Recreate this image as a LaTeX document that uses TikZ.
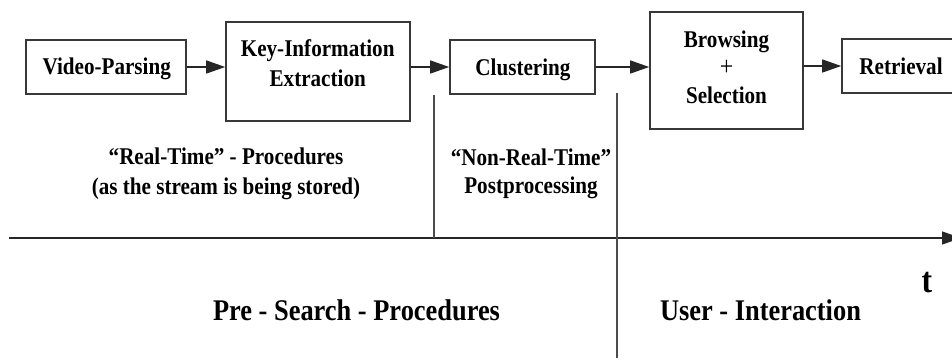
\documentclass[tikz,border=0pt]{standalone}
\usepackage{fontspec}
\setmainfont{Liberation Serif}
\usetikzlibrary{arrows.meta}
\newcommand{\sqtxt}[2][24]{\scalebox{0.88}[1]{\fontsize{#1}{30}\selectfont\bfseries\begin{tabular}[t]{@{}c@{}}#2\end{tabular}}}
\newcommand{\sqtxtb}[1]{\scalebox{0.88}[1]{\fontsize{24}{28}\selectfont\bfseries\begin{tabular}[t]{@{}c@{}}#1\end{tabular}}}
\begin{document}
\begin{tikzpicture}[x=1pt,y=-1pt,
  box/.style={draw=black!78,line width=1.6pt,inner sep=0pt},
  txt/.style={anchor=base,inner sep=0pt},
  arr/.style={draw=black!85,line width=1.3pt,-{Triangle[length=19pt,width=13pt]}},
  sep/.style={draw=black!70,line width=1.3pt}]
\clip (0,0) rectangle (952,363);
\fill[white] (0,0) rectangle (952,363);
% boxes
\node[box,minimum width=160pt,minimum height=54pt] (vp) at (106,67) {};
\node[box,minimum width=184pt,minimum height=99pt] (ki) at (318,71.5) {};
\node[box,minimum width=145pt,minimum height=54pt] (cl) at (522.5,67) {};
\node[box,minimum width=153pt,minimum height=117pt] (bs) at (726.5,70.5) {};
\node[box,minimum width=120pt,minimum height=54pt] (rt) at (902,66) {};
% box texts
\node[txt] (vpt) at (106.7,75) {\sqtxt{Video-Parsing}};
\node[txt] (kit) at (317.7,56.5) {\sqtxt{Key-Information\\Extraction}};
\node[txt] (clt) at (523,76) {\sqtxt{Clustering}};
\node[txt] (bst) at (726.5,48) {\sqtxtb{Browsing\\\textmd{\fontsize{27}{28}\selectfont+}\\Selection}};
\node[txt] (rtt) at (901,75) {\sqtxt{Retrieval}};
% arrows
\draw[arr] (vp.east) -- (vp.east -| ki.west);
\draw[arr] (cl.west -| ki.east) -- (cl.west);
\draw[arr] (cl.east) -- (cl.east -| bs.west);
\draw[arr] (rt.west -| bs.east) -- (rt.west);
% time axis and separators
\coordinate (axL) at (9,238);
\coordinate (axR) at (961,238);
\coordinate (v1) at (434,95);
\coordinate (v2) at (617,93);
\coordinate (v2b) at (617,358);
\draw[arr] (axL) -- (axR);
\draw[sep] (v1) -- (v1 |- axL);
\draw[sep] (v2) -- (v2b);
% labels
\node[txt] (rtp) at (226,165) {\sqtxt{``Real-Time'' - Procedures\\(as the stream is being stored)}};
\node[txt] (nrt) at (531,165.5) {\sqtxtb{``Non-Real-Time''\\Postprocessing}};
\node[txt] (pre) at (356.5,320) {\sqtxt[30]{Pre - Search - Procedures}};
\node[txt] (usr) at (760.5,320) {\sqtxt[30]{User - Interaction}};
\node[txt] (tt) at (927,292) {\sqtxt[36]{t}};
\end{tikzpicture}
\end{document}
